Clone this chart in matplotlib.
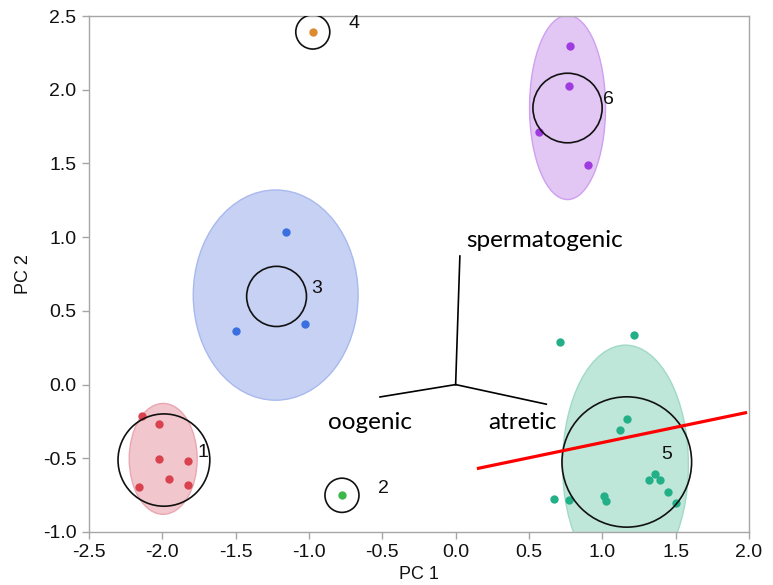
import matplotlib.pyplot as plt
from matplotlib.patches import Ellipse, Circle

plt.rcParams['font.family'] = ['Liberation Sans', 'DejaVu Sans']

# cluster points (PC1, PC2)
red_x = [-2.141, -2.023, -2.023, -1.824, -1.955, -2.157, -1.828]
red_y = [-0.212, -0.267, -0.506, -0.518, -0.642, -0.692, -0.681]
green_x = [-0.775]
green_y = [-0.751]
blue_x = [-1.156, -1.499, -1.026]
blue_y = [1.033, 0.365, 0.408]
orange_x = [-0.974]
orange_y = [2.392]
teal_x = [1.169, 1.122, 0.674, 0.772, 1.013, 1.027, 1.360, 1.319, 1.396, 1.449, 1.501, 0.715, 1.219]
teal_y = [-0.235, -0.307, -0.778, -0.785, -0.756, -0.792, -0.606, -0.644, -0.649, -0.726, -0.801, 0.287, 0.336]
purple_x = [0.779, 0.774, 0.570, 0.901]
purple_y = [2.299, 2.026, 1.711, 1.489]

# cluster circles: label, center, radius, label position
circ_labels = ["1", "2", "3", "4", "5", "6"]
circ_cx = [-1.989, -0.775, -1.221, -0.974, 1.167, 0.763]
circ_cy = [-0.512, -0.751, 0.598, 2.392, -0.525, 1.876]
circ_r = [0.313, 0.116, 0.204, 0.116, 0.442, 0.236]
lab_x = [-1.72, -0.49, -0.95, -0.69, 1.44, 1.045]
lab_y = [-0.46, -0.705, 0.652, 2.446, -0.473, 1.931]

# confidence ellipses: center, width, height
ell_cx = [-1.994, -1.227, 1.158, 0.763]
ell_cy = [-0.504, 0.607, -0.544, 1.88]
ell_w = [0.463, 1.124, 0.858, 0.518]
ell_h = [0.752, 1.426, 1.623, 1.25]
ell_face = ["#f1c6cd", "#c6d1f3", "#bfe7d9", "#e2c6f4"]
ell_edge = ["#eaa7b1", "#a9b9ee", "#9fdac4", "#cfa0ef"]

# loading vectors
load_names = ["spermatogenic", "oogenic", "atretic"]
load_x = [0.029, -0.516, 0.618]
load_y = [0.872, -0.084, -0.133]

# red separating line
line_x = [0.145, 1.987]
line_y = [-0.570, -0.189]

fig = plt.figure(figsize=(7.73, 5.85), dpi=100)
ax = fig.add_axes([0.1151, 0.0906, 0.8538, 0.882])

for cx, cy, w, h, fc, ec in zip(ell_cx, ell_cy, ell_w, ell_h, ell_face, ell_edge):
    ax.add_patch(Ellipse((cx, cy), w, h, facecolor=fc, edgecolor=ec, lw=1.0, zorder=1))

ax.scatter(red_x, red_y, s=36, color="#d9434f", zorder=3, linewidths=0)
ax.scatter(green_x, green_y, s=36, color="#3cb84a", zorder=3, linewidths=0)
ax.scatter(blue_x, blue_y, s=36, color="#3a6fe0", zorder=3, linewidths=0)
ax.scatter(orange_x, orange_y, s=36, color="#de8a2e", zorder=3, linewidths=0)
ax.scatter(teal_x, teal_y, s=36, color="#23b088", zorder=3, linewidths=0)
ax.scatter(purple_x, purple_y, s=36, color="#a03be0", zorder=3, linewidths=0)

for lab, cx, cy, r, lx, ly in zip(circ_labels, circ_cx, circ_cy, circ_r, lab_x, lab_y):
    ax.add_patch(Circle((cx, cy), r, fill=False, edgecolor="#111111", lw=1.2, zorder=4))
    ax.text(lx, ly, lab, fontsize=14, ha="center", va="center", color="#111111", zorder=5)

for name, lx, ly in zip(load_names, load_x, load_y):
    ax.plot([0, lx], [0, ly], color="black", lw=1.2, zorder=4)

ax.text(0.07, 0.98, "spermatogenic", family=["Lato", "DejaVu Sans"], fontsize=17.5,
        ha="left", va="center", zorder=5)
ax.text(-0.87, -0.26, "oogenic", family=["Lato", "DejaVu Sans"], fontsize=17.5,
        ha="left", va="center", zorder=5)
ax.text(0.22, -0.26, "atretic", family=["Lato", "DejaVu Sans"], fontsize=17.5,
        ha="left", va="center", zorder=5)

ax.plot(line_x, line_y, color="#ff0000", lw=2.3, zorder=6, solid_capstyle="butt")

ax.set_xlim(-2.5, 2.0)
ax.set_ylim(-1.0, 2.5)
ax.set_xticks([-2.5, -2.0, -1.5, -1.0, -0.5, 0.0, 0.5, 1.0, 1.5, 2.0])
ax.set_yticks([-1.0, -0.5, 0.0, 0.5, 1.0, 1.5, 2.0, 2.5])
ax.set_xticklabels(["-2.5", "-2.0", "-1.5", "-1.0", "-0.5", "0.0", "0.5", "1.0", "1.5", "2.0"])
ax.set_yticklabels(["-1.0", "-0.5", "0.0", "0.5", "1.0", "1.5", "2.0", "2.5"])
for sp in ax.spines.values():
    sp.set_color("#a6a6a6")
    sp.set_linewidth(1.0)
ax.tick_params(colors="#a6a6a6", labelcolor="#111111", labelsize=14, length=5, width=1.0, pad=4)
ax.set_xlabel("PC 1", fontsize=13, color="#111111", labelpad=3)
ax.set_ylabel("PC 2", fontsize=13, color="#111111", labelpad=8)

fig.savefig("out.png", dpi=100)
